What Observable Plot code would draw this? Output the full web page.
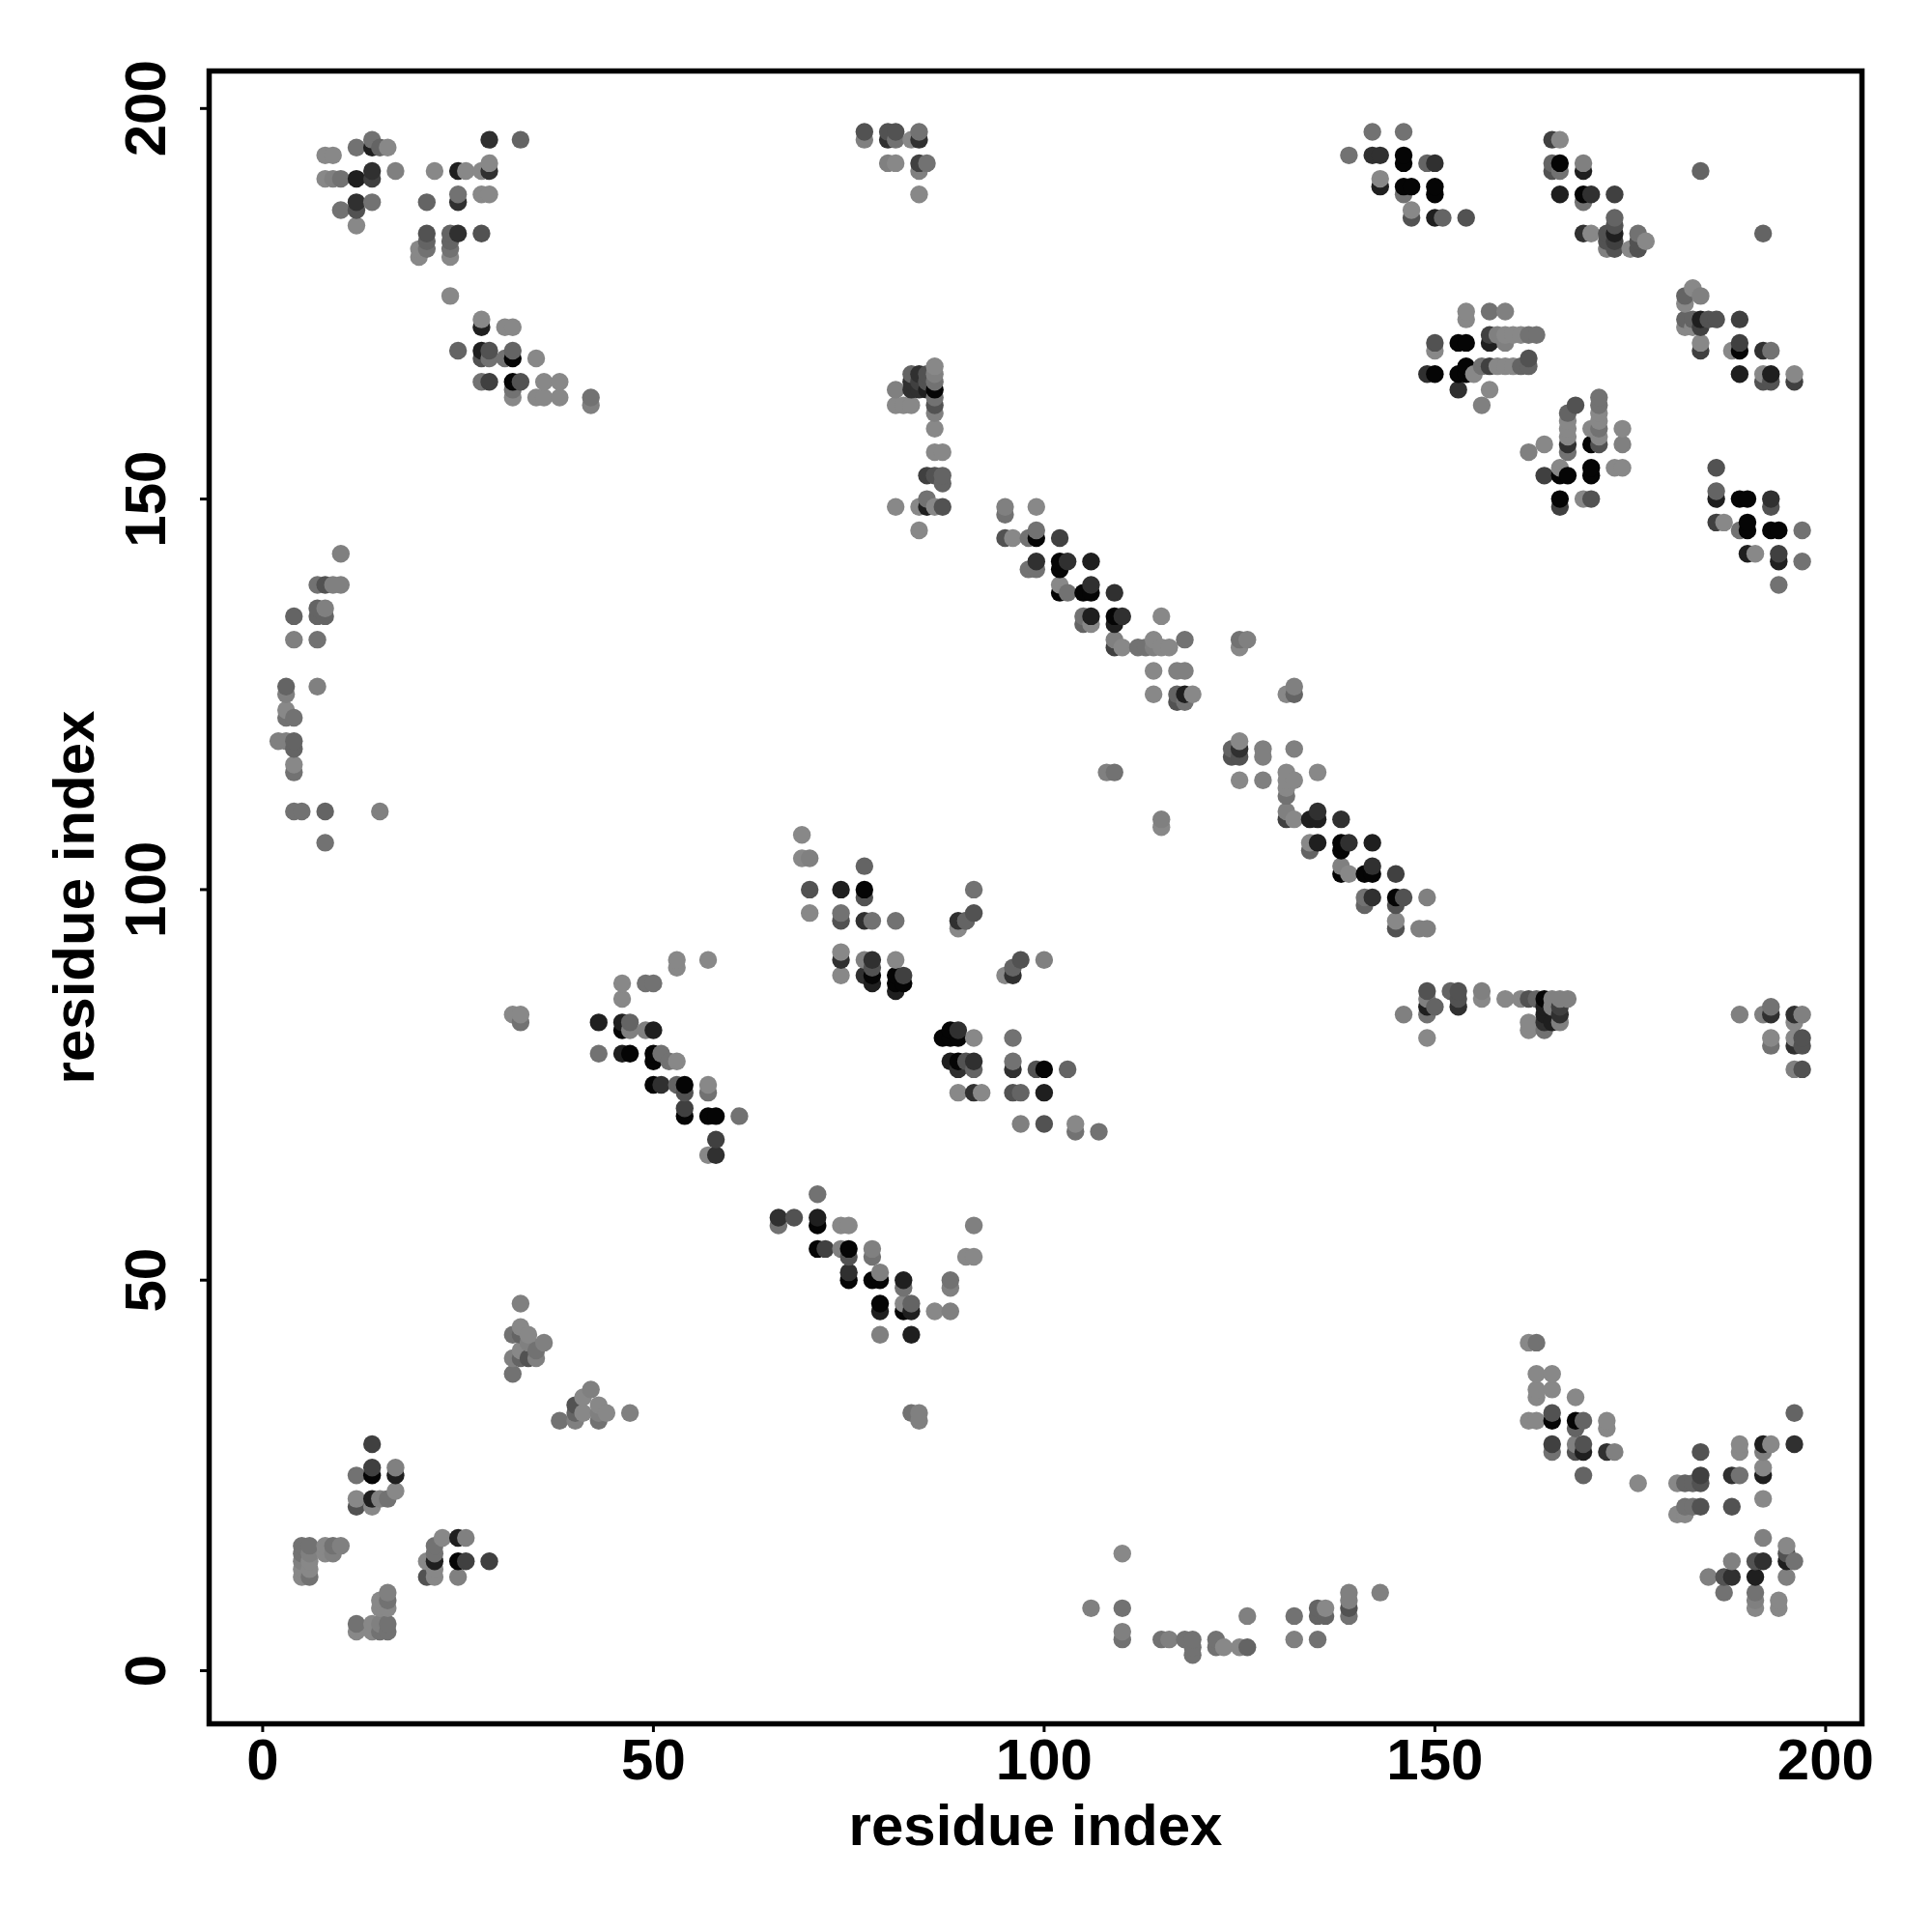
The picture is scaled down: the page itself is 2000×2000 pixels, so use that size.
<!DOCTYPE html>
<html>
<head>
<meta charset="utf-8">
<script src="https://cdn.jsdelivr.net/npm/d3@7"></script>
<script src="https://cdn.jsdelivr.net/npm/@observablehq/plot@0.6"></script>
<style>html,body{margin:0;padding:0;background:#fff}</style>
</head>
<body>
<div id="chart"></div>
<script>
// Each contact: [residue i, residue j, darkness level]
const topLeftA = [[14,196,6],[29,196,2],[33,196,5],[12,195,6],[14,195,1],[15,195,5],[16,195,8],[8,194,8],[9,194,8],
[14,192,2],[17,192,7],[22,192,8],[25,192,1],[26,192,8],[28,192,8],[29,192,2],[29,193,8],
[8,191,8],[9,191,7],[10,191,6],[12,191,1],[14,191,3],[25,189,6],[28,189,8],[29,189,8],
[12,188,2],[14,188,6],[21,188,5],[25,188,2],[10,187,6],[12,187,4],[12,185,8],
[21,184,4],[24,184,5],[25,184,2],[28,184,4],[21,183,5],[24,183,5],[20,182,8],[21,182,6],[24,182,6],[20,181,8],[24,181,8],[24,176,8]];
const topLeftB = [[28,173,8],[28,172,1],[31,172,8],[32,172,8],[25,169,5],[28,169,1],[29,169,4],[32,169,5],
[28,168,4],[29,168,6],[31,168,6],[32,168,0],[35,168,8],[28,165,6],[29,165,3],[32,165,0],[33,165,4],[36,165,8],[38,165,8],
[32,164,6],[32,163,8],[35,163,8],[36,163,8],[38,163,8],[42,163,6],[42,162,7]];
const topMiddle = [[77,197,4],[80,197,4],[81,197,4],[84,197,6],[77,196,7],[80,196,2],[81,196,6],[83,196,8],[84,196,2],
[80,193,7],[81,193,8],[84,193,3],[85,193,6],[84,192,7],[84,189,8]];
const middleColumn = [[86,167,8],[83,166,5],[84,166,2],[85,166,4],[86,166,7],[83,165,2],[84,165,3],[85,165,4],[86,165,6],
[81,164,7],[83,164,2],[84,164,2],[85,164,1],[86,164,0],[86,163,6],[81,162,8],[82,162,8],[83,162,8],[86,162,4],[86,161,7],[86,159,8],
[86,156,8],[87,156,8],[85,153,3],[86,153,4],[87,153,5],[87,152,5],[81,149,8],[84,149,8],[85,149,1],[86,149,8],[87,149,4],[85,150,6],[84,146,8]];
const diagonalUpper = [[95,149,7],[99,149,8],[95,148,6],[99,146,6],[95,145,4],[96,145,8],[98,145,6],[99,145,0],[102,145,3],
[99,142,2],[102,142,0],[103,142,2],[106,142,1],[98,141,6],[99,141,6],[102,141,0],[102,139,8],[106,139,2],
[102,138,0],[103,138,6],[105,138,0],[106,138,0],[109,138,2],[105,135,6],[106,135,1],[109,135,0],[110,135,2],[115,135,8],
[105,134,5],[106,134,8],[109,134,1],[109,132,7],[114,132,8],[118,132,6],[125,132,6],[126,132,7],
[109,131,3],[110,131,8],[112,131,6],[113,131,6],[114,131,7],[115,131,8],[116,131,8],[125,131,8],
[114,128,8],[117,128,7],[118,128,7],[114,125,8],[117,125,5],[118,125,1],[119,125,8],[117,124,4],[118,124,6],
[132,126,7],[131,125,8],[132,125,5]];
const diagonalLower = [[125,119,8],[124,118,5],[125,118,2],[128,118,7],[132,118,7],[124,117,4],[125,117,4],[128,117,7],
[131,115,8],[135,115,8],[108,115,7],[109,115,6],[125,114,8],[128,114,7],[131,114,8],[132,114,8],[131,113,8],[131,112,6],
[115,109,7],[115,108,8],[131,110,7],[135,110,2],[131,109,3],[132,109,8],[134,109,1],[135,109,1],[138,109,2],
[134,106,8],[135,106,1],[138,106,0],[139,106,2],[142,106,1],[134,105,5],[138,105,0],[138,103,7],[142,103,2],
[138,102,0],[139,102,8],[141,102,0],[142,102,0],[145,102,3],[141,99,6],[142,99,2],[145,99,0],[146,99,4],[149,99,7],
[141,98,5],[145,98,4],[145,96,8],[145,95,4],[148,95,7],[149,95,7]];
const middleBlock = [[69,107,8],[69,104,8],[70,104,7],[77,103,5],[70,100,4],[74,100,1],[77,100,0],[91,100,6],[77,99,4],
[70,97,8],[74,97,6],[91,97,4],[74,96,4],[77,96,2],[78,96,6],[81,96,6],[89,96,2],[90,96,5],[89,95,8],[90,96,5],
[74,92,8],[74,91,2],[77,91,7],[78,91,2],[81,91,8],[78,90,4],[74,89,8],[77,89,2],[78,89,0],[81,89,0],[82,89,3],
[78,88,1],[81,88,0],[82,88,0],[81,87,1],[97,91,4],[96,90,5],[95,89,8],[96,89,2],[100,91,7]];
const leftStrand = [[32,84,8],[33,84,8],[33,83,6],[43,83,1],[46,83,1],[47,83,5],[46,82,0],[47,82,7],[49,82,7],[50,82,1],
[57,91,8],[53,91,8],[53,90,8],[46,88,8],[49,88,6],[50,88,6],[46,86,8],[43,79,6],[46,79,1],[47,79,0],[50,79,0],[51,79,6],
[50,78,0],[52,78,6],[53,78,8],[50,75,0],[51,75,2],[53,75,5],[54,75,0],[57,75,8],[54,74,4],[57,74,6],[54,72,3],
[54,71,0],[57,71,0],[58,71,0],[61,71,6],[58,68,3],[57,66,8],[58,66,2]];
const rightStrand = [[88,82,0],[89,82,2],[87,81,0],[88,81,0],[89,81,0],[91,81,8],[96,81,6],[88,78,1],[89,78,0],[90,78,4],[91,78,2],[96,78,6],
[89,77,2],[91,77,5],[96,77,2],[99,77,4],[100,77,0],[103,77,5],[89,74,8],[91,74,2],[92,74,8],[96,74,4],[97,74,5],[100,74,1],
[97,70,7],[100,70,4],[104,70,8],[104,69,6],[107,69,6]];
const upperRightA = [[142,197,6],[146,197,6],[139,194,6],[142,194,2],[143,194,2],[146,194,0],[146,193,0],[149,193,5],[150,193,2],
[143,191,8],[143,190,1],[146,190,0],[147,190,0],[150,190,0],[146,189,6],[150,189,0],[147,187,8],[147,186,4],[150,186,1],[151,186,5],[154,186,4]];
const upperRightB = [[165,196,3],[166,196,8],[165,193,5],[166,193,0],[169,193,7],[165,192,4],[166,192,6],[169,192,1],
[166,189,1],[169,189,0],[170,189,2],[173,189,3],[169,188,6],[173,186,5],[173,185,4],[169,184,2],[170,184,8],[172,184,4],[173,184,1],[176,184,6],
[172,183,4],[173,183,3],[176,183,4],[177,183,8],[172,182,7],[173,182,4],[175,182,8],[176,182,4],[184,192,5],[192,184,5]];
const upperRightC = [[183,177,8],[182,176,5],[184,176,7],[182,175,8],[182,173,5],[183,173,5],[184,173,1],[185,173,4],[186,173,4],[189,173,3],
[182,172,8],[183,172,8],[184,172,3],[184,170,8],[189,170,3],[184,169,3],[188,169,8],[189,169,0],[192,169,2],[193,169,6],
[189,166,1],[192,166,8],[193,166,1],[196,166,8],[192,165,4],[193,165,4],[196,165,3]];
const innerBlockA = [[154,174,8],[157,174,6],[159,174,7],[154,173,8],[157,171,3],[158,171,7],[159,171,8],[160,171,8],[161,171,8],[162,171,6],[163,171,6],
[150,170,4],[153,170,0],[154,170,0],[157,170,1],[159,170,7],[150,169,8],[162,168,4],[154,167,0],[156,167,6],[157,167,3],[158,167,8],[159,167,8],[160,167,8],[161,167,5],[162,167,5],
[149,166,2],[150,166,0],[153,166,0],[154,166,0],[155,166,8],[153,164,2],[157,164,8],[156,162,7]];
const innerBlockB = [[168,162,4],[167,161,5],[167,160,8],[167,159,8],[167,158,8],[167,157,2],[167,156,6],
[171,163,6],[171,162,6],[171,161,8],[171,160,8],[171,159,6],[171,158,8],[171,157,4],[170,159,8],[170,157,0],[174,159,8],[174,157,7],[164,157,8],[162,156,7],
[166,154,8],[170,154,0],[173,154,8],[174,154,8],[164,153,3],[166,153,0],[167,153,0],[170,153,0],[166,150,0],[169,150,8],[170,150,4],[166,149,3]];
const lowerRightBlock = [[186,154,4],[186,151,5],[186,150,1],[189,150,0],[190,150,0],[193,150,2],[193,149,4],[186,147,3],[187,147,8],[190,147,0],
[189,146,6],[190,146,0],[193,146,0],[194,146,0],[197,146,6],[190,143,1],[191,143,8],[194,143,3],[194,142,1],[197,142,6],[194,139,6]];
const sideRowA = [[149,87,4],[152,87,5],[153,87,4],[156,87,7],[149,86,7],[153,86,4],[156,86,8],[159,86,8],[161,86,8],[162,86,4],[163,86,5],[164,86,0],[165,86,7],[166,86,7],[167,86,7],
[149,85,1],[150,85,5],[153,85,2],[164,85,1],[165,85,7],[166,85,3],[146,84,7],[149,84,6],[164,84,1],[166,84,2],[162,83,8],[164,83,2],[165,83,1],[166,83,7],[162,82,8],[164,82,6],[149,81,8]];
const sideRowB = [[193,85,6],[189,84,7],[192,84,7],[193,84,2],[196,84,2],[197,84,7],[196,83,8],[193,81,8],[196,81,8],[197,81,4],[193,80,6],[196,80,2],[197,80,4],[196,77,7],[197,77,4]];
const centerVee = [[71,61,6],[66,58,2],[68,58,4],[71,58,1],[66,57,6],[71,57,0],[74,57,8],[75,57,8],[91,57,7],
[71,54,0],[72,54,3],[74,54,7],[75,54,0],[78,54,7],[75,53,4],[78,53,6],[90,53,8],[91,53,8],[75,51,2],[79,51,7],
[75,50,0],[78,50,0],[79,50,0],[82,50,1],[88,50,6],[82,49,6],[88,49,7],[79,47,0],[82,47,8],[83,47,5],
[79,46,1],[82,46,0],[83,46,1],[86,46,8],[88,46,7],[79,43,7],[83,43,1],[83,33,6],[84,33,7],[84,32,7]];
const lowerLeftA = [[33,47,7],[33,44,8],[32,43,6],[33,43,5],[34,43,8],[34,42,7],[36,42,7],[33,41,8],[35,41,6],[32,40,7],[33,40,5],[34,40,4],[35,40,7],[32,38,6],
[42,36,7],[41,35,8],[40,34,4],[43,34,8],[40,33,5],[41,33,8],[43,33,7],[44,33,8],[47,33,7],[38,32,6],[40,32,7],[43,32,6]];
const lowerLeftB = [[14,29,3],[14,26,3],[17,26,7],[12,25,6],[14,25,0],[17,25,1],[17,23,8],[12,22,8],[14,22,1],[15,22,7],[16,22,6],[12,21,4],[14,21,8],
[5,16,6],[6,16,6],[8,16,8],[9,16,6],[10,16,7],[5,15,6],[6,15,7],[8,15,8],[9,15,7],[5,14,7],[6,14,8],[5,13,8],[6,13,8],[5,12,8],[6,12,6]];
const lowerLeftC = [[23,17,8],[25,17,1],[26,17,7],[22,16,6],[22,15,6],[21,14,8],[22,14,1],[25,14,0],[26,14,3],[29,14,3],[22,13,8],[21,12,4],[22,12,8],[25,12,7],
[16,10,7],[15,9,8],[16,9,6],[15,8,8],[16,8,8],[12,6,6],[14,6,8],[15,6,7],[16,6,6],[12,5,8],[14,5,8],[15,5,6],[16,5,6]];
const bottomArc = [[110,15,8],[139,10,7],[143,10,7],[139,9,7],[106,8,7],[110,8,6],[135,8,5],[136,8,8],[139,8,4],[126,7,7],[132,7,6],[135,7,5],[136,7,5],[139,7,6],
[110,5,7],[110,4,6],[115,4,6],[116,4,7],[118,4,6],[119,4,6],[122,4,6],[132,4,7],[135,4,6],[119,3,6],[122,3,6],[123,3,8],[125,3,8],[126,3,5],[119,2,6]];
const lowerRightA = [[162,42,8],[163,42,6],[163,38,8],[165,38,8],[163,36,8],[165,36,8],[163,35,8],[168,35,8],[196,33,5],[165,33,4],[162,32,8],[163,32,8],[165,32,0],[168,32,0],[169,32,5],[172,32,8],[168,31,5],[172,31,8],
[165,29,3],[168,29,7],[169,29,4],[165,28,6],[168,28,4],[169,28,1],[172,28,2],[173,28,7],[169,25,5],[176,24,8]];
const lowerRightB = [[189,29,8],[192,29,1],[193,29,8],[196,29,2],[184,28,4],[189,28,8],[192,28,7],[192,26,8],[184,25,3],[188,25,2],[189,25,6],[192,25,1],
[181,24,8],[182,24,5],[183,24,5],[184,24,4],[192,22,8],[182,21,6],[183,21,6],[184,21,4],[188,21,4],[181,20,8],[182,20,8]];
const lowerRightC = [[192,17,7],[195,16,8],[195,15,4],[188,14,7],[191,14,4],[192,14,2],[195,14,1],[196,14,6],[185,12,7],[187,12,4],[188,12,2],[191,12,1],[195,12,7],
[187,10,6],[191,10,6],[191,9,7],[194,9,8],[191,8,8],[194,8,8]];
const leftArc = [[10,143,7],[7,139,6],[8,139,4],[9,139,7],[10,139,7],[7,136,5],[8,136,7],[4,135,5],[7,135,5],[8,135,5],[4,132,7],[7,132,6],[3,126,5],[7,126,7],[3,125,7],
[3,123,8],[3,122,6],[4,122,6],[2,119,7],[3,119,7],[4,119,5],[4,118,5],[4,116,8],[4,115,6],[4,110,6],[5,110,6],[8,110,5],[15,110,7],[8,106,6]];

const darknessLevels = [0,1,2,3,4,5,6,7,8];
const grayShades = ["#050505","#1f1f1f","#303030","#404040","#525252","#646464","#727272","#808080","#888888"];
const tickValues = [0,50,100,150,200];
const axisTitle = "residue index";

const contacts = d3.sort(
  [topLeftA,topLeftB,topMiddle,middleColumn,diagonalUpper,diagonalLower,middleBlock,leftStrand,rightStrand,
   upperRightA,upperRightB,upperRightC,innerBlockA,innerBlockB,lowerRightBlock,sideRowA,sideRowB,centerVee,
   lowerLeftA,lowerLeftB,lowerLeftC,bottomArc,lowerRightA,lowerRightB,lowerRightC,leftArc].flat(),
  d => d[0], d => d[1]
);

const chart = Plot.plot({
  width: 2000,
  height: 2000,
  marginLeft: 216,
  marginRight: 73,
  marginTop: 73,
  marginBottom: 216,
  x: {domain: [-6.85, 204.65]},
  y: {domain: [-6.8, 204.8]},
  color: {type: "ordinal", domain: darknessLevels, range: grayShades},
  style: {fontFamily: "'Liberation Sans', Arial, sans-serif", fontWeight: "bold", fontSize: "60px", color: "#000", background: "#fff"},
  marks: [
    Plot.dot(contacts, {x: d => d[0], y: d => d[1], fill: d => d[2], r: 9.2, stroke: null}),
    Plot.frame({stroke: "#000", strokeWidth: 5.5}),
    Plot.axisX({ticks: tickValues, tickSize: 9, tickPadding: 6, strokeWidth: 3, stroke: "#000", fill: "#000", label: axisTitle, labelArrow: "none", labelAnchor: "center", labelOffset: 125}),
    Plot.axisY({ticks: tickValues, tickSize: 9, tickPadding: 37, tickRotate: -90, strokeWidth: 3, stroke: "#000", fill: "#000", label: axisTitle, labelArrow: "none", labelAnchor: "center", labelOffset: 162})
  ]
});
document.getElementById("chart").appendChild(chart);
</script>
</body>
</html>
